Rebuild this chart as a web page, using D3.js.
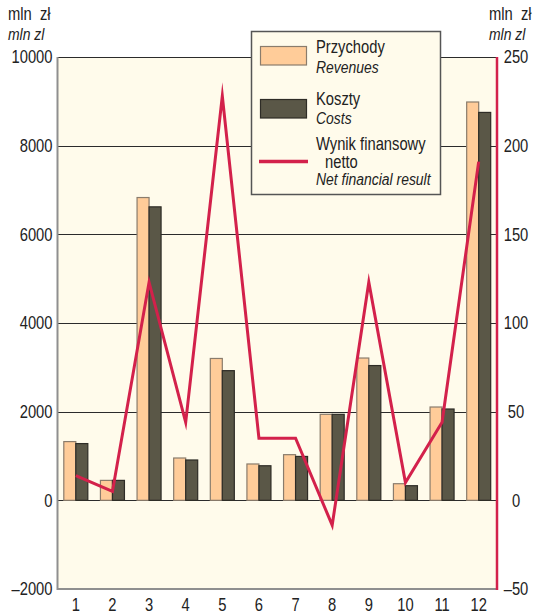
<!DOCTYPE html>
<html>
<head>
<meta charset="utf-8">
<script src="https://cdn.jsdelivr.net/npm/d3@7"></script>
<style>
  html, body { margin: 0; padding: 0; background: #ffffff; }
  svg { display: block; }
  text { font-family: "Liberation Sans", Arial, sans-serif; fill: #222; }
</style>
</head>
<body>
<svg id="chart" width="537" height="616"></svg>
<script>
// Months 1–12
const categories = ["1", "2", "3", "4", "5", "6", "7", "8", "9", "10", "11", "12"];
// Przychody / Revenues (mln zł, left axis)
const revenues = [1325, 450, 6830, 955, 3200, 820, 1030, 1940, 3210, 375, 2105, 8985];
// Koszty / Costs (mln zł, left axis)
const costs = [1280, 450, 6620, 910, 2925, 780, 990, 1940, 3040, 330, 2060, 8750];
// Wynik finansowy netto / Net financial result (mln zł, right axis)
const netResult = [14, 5, 123, 44, 228, 35, 35, -14, 123, 10, 44, 191];

const leftTicks = [-2000, 0, 2000, 4000, 6000, 8000, 10000];
const rightTicks = [-50, 0, 50, 100, 150, 200, 250];

const colors = {
  plotBg: "#fffbeb",
  revenue: "#ffcc99",
  revenueStroke: "#8a7c6c",
  cost: "#5a5747",
  costStroke: "#2e2c26",
  net: "#d3214b",
  grid: "#2b2b2b",
  axisGray: "#8f8f8f"
};

// narrow type: regular sans squeezed horizontally
const SQUEEZE = 0.82;
function condense(sel) {
  sel.each(function () {
    const t = d3.select(this);
    const x = +(t.attr("x") || 0);
    const prev = t.attr("transform") || "";
    t.attr("x", x / SQUEEZE).attr("transform", `${prev} scale(${SQUEEZE},1)`);
  });
}

const svg = d3.select("#chart");
const plot = { left: 57.5, right: 497, top: 57, bottom: 589 };

const yLeft = d3.scaleLinear().domain([-2000, 10000]).range([plot.bottom, plot.top]);
const yRight = d3.scaleLinear().domain([-50, 250]).range([plot.bottom, plot.top]);
const x0 = d3.scaleBand().domain(categories).range([plot.left, plot.right]).padding(0);
const x1 = d3.scaleBand().domain(["rev", "cost"]).range([0, x0.bandwidth()])
  .paddingInner(0).paddingOuter(0.525);

// plot background
svg.append("rect")
  .attr("x", plot.left).attr("y", plot.top)
  .attr("width", plot.right - plot.left).attr("height", plot.bottom - plot.top)
  .attr("fill", colors.plotBg);

// horizontal gridlines (bottom edge drawn separately in gray)
svg.append("g").selectAll("line")
  .data(leftTicks.filter(d => d > -2000))
  .join("line")
  .attr("x1", plot.left).attr("x2", plot.right)
  .attr("y1", d => Math.round(yLeft(d)) + 0.5).attr("y2", d => Math.round(yLeft(d)) + 0.5)
  .attr("stroke", colors.grid).attr("stroke-width", 1.2);

const fmt = d => d < 0 ? "\u2013" + Math.abs(d) : String(d);

// left axis labels
const leftAxis = d3.axisLeft(yLeft).tickValues(leftTicks).tickSize(0).tickPadding(5).tickFormat(fmt);
const gL = svg.append("g").attr("transform", `translate(${plot.left},0)`).call(leftAxis);
gL.select(".domain").remove();
gL.selectAll("text").attr("font-size", 18).attr("fill", "#222")
  .attr("font-family", "Liberation Sans, Arial, sans-serif").call(condense);

// right axis labels
const rightAxis = d3.axisRight(yRight).tickValues(rightTicks).tickSize(0).tickPadding(0).tickFormat(fmt);
const gR = svg.append("g").attr("transform", `translate(516,0)`).call(rightAxis);
gR.select(".domain").remove();
gR.selectAll("text").attr("font-size", 18).attr("text-anchor", "middle").attr("fill", "#222")
  .attr("font-family", "Liberation Sans, Arial, sans-serif").call(condense);

// bottom category labels
const bottomAxis = d3.axisBottom(x0).tickSize(0).tickPadding(9);
const gB = svg.append("g").attr("transform", `translate(0,${plot.bottom})`).call(bottomAxis);
gB.select(".domain").remove();
gB.selectAll("text").attr("font-size", 18).attr("fill", "#222")
  .attr("font-family", "Liberation Sans, Arial, sans-serif").call(condense);

// bars
const groups = svg.append("g").selectAll("g")
  .data(categories.map((c, i) => ({ c, rev: revenues[i], cost: costs[i] })))
  .join("g")
  .attr("transform", d => `translate(${x0(d.c)},0)`);

groups.append("rect")
  .attr("x", x1("rev")).attr("width", x1.bandwidth())
  .attr("y", d => yLeft(d.rev)).attr("height", d => yLeft(0) - yLeft(d.rev))
  .attr("fill", colors.revenue).attr("stroke", colors.revenueStroke).attr("stroke-width", 1.2);

groups.append("rect")
  .attr("x", x1("cost")).attr("width", x1.bandwidth())
  .attr("y", d => yLeft(d.cost)).attr("height", d => yLeft(0) - yLeft(d.cost))
  .attr("fill", colors.cost).attr("stroke", colors.costStroke).attr("stroke-width", 1.2);

// left and bottom frame
svg.append("line")
  .attr("x1", plot.left).attr("x2", plot.left).attr("y1", plot.top).attr("y2", plot.bottom + 1)
  .attr("stroke", colors.axisGray).attr("stroke-width", 2);
svg.append("line")
  .attr("x1", plot.left).attr("x2", plot.right).attr("y1", plot.bottom).attr("y2", plot.bottom)
  .attr("stroke", colors.axisGray).attr("stroke-width", 2);

// net financial result line
const line = d3.line()
  .x((d, i) => x0(categories[i]) + x0.bandwidth() / 2)
  .y(d => yRight(d));
svg.append("path")
  .datum(netResult)
  .attr("d", line)
  .attr("fill", "none").attr("stroke", colors.net).attr("stroke-width", 3)
  .attr("stroke-linejoin", "miter").attr("stroke-miterlimit", 10);

// right axis line (red)
svg.append("line")
  .attr("x1", plot.right).attr("x2", plot.right).attr("y1", plot.top).attr("y2", plot.bottom + 1)
  .attr("stroke", colors.net).attr("stroke-width", 2.5);

// unit labels
function unitLabel(x) {
  svg.append("text").attr("x", x).attr("y", 20).attr("font-size", 18)
    .attr("xml:space", "preserve").text("mln  zł").call(condense);
  svg.append("text").attr("x", x).attr("y", 40).attr("font-size", 17)
    .attr("font-style", "italic").text("mln zl").call(condense);
}
unitLabel(8);
unitLabel(489);

// legend
const legend = svg.append("g");
legend.append("rect")
  .attr("x", 251.5).attr("y", 31.5).attr("width", 189).attr("height", 163)
  .attr("fill", colors.plotBg).attr("stroke", "#555").attr("stroke-width", 1.5);
legend.append("rect")
  .attr("x", 260.5).attr("y", 46.5).attr("width", 46).attr("height", 18.5)
  .attr("fill", colors.revenue).attr("stroke", colors.revenueStroke).attr("stroke-width", 1.2);
legend.append("rect")
  .attr("x", 260.5).attr("y", 99.5).attr("width", 46).attr("height", 18.5)
  .attr("fill", colors.cost).attr("stroke", colors.costStroke).attr("stroke-width", 1.2);
legend.append("line")
  .attr("x1", 259).attr("x2", 308).attr("y1", 161.5).attr("y2", 161.5)
  .attr("stroke", colors.net).attr("stroke-width", 3.5);

const legendText = [
  { t: "Przychody", x: 316, y: 53, it: false },
  { t: "Revenues", x: 316, y: 72.5, it: true },
  { t: "Koszty", x: 316, y: 105, it: false },
  { t: "Costs", x: 316, y: 124, it: true },
  { t: "Wynik finansowy", x: 316, y: 150.5, it: false },
  { t: "netto", x: 325, y: 168, it: false },
  { t: "Net financial result", x: 316, y: 185.5, it: true }
];
legend.selectAll("text.lg").data(legendText).join("text")
  .attr("class", "lg")
  .attr("x", d => d.x).attr("y", d => d.y)
  .attr("font-size", d => d.it ? 17 : 18)
  .attr("font-style", d => d.it ? "italic" : "normal")
  .text(d => d.t)
  .call(condense);
</script>
</body>
</html>
